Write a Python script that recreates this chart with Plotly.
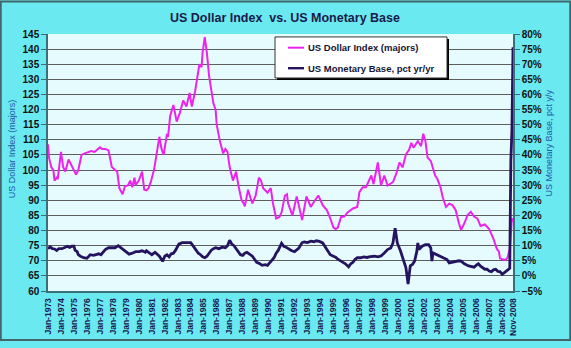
import plotly.graph_objects as go

# Month offsets counted from Jan-1973 (0) to Nov-2008 (430)
usd_month = [0, 1, 3, 5, 6, 8, 9, 12, 14, 16, 19, 21, 24, 26, 28, 31, 34, 37, 40, 43, 46, 48, 50, 53, 56,
             58, 59, 62, 64, 66, 69, 71, 74, 76, 78, 80, 81, 84, 87, 89, 91, 93, 95, 98, 101, 103, 105,
             107, 110, 111, 113, 116, 119, 122, 125, 128, 131, 133, 136, 138, 140, 142, 143, 145, 147,
             149, 151, 153, 155, 156, 159, 162, 164, 166, 168, 171, 174, 176, 179, 181, 182, 185, 187,
             189, 192, 195, 197, 199, 203, 206, 208, 211, 214, 216, 219, 221, 222, 224, 226, 230, 235,
             239, 243, 246, 250, 254, 258, 261, 264, 266, 268, 271, 274, 277, 282, 286, 288, 291, 294,
             299, 301, 305, 308, 311, 314, 319, 322, 325, 328, 331, 334, 336, 338, 342, 345, 347, 349,
             351, 354, 358, 360, 363, 365, 368, 371, 374, 377, 380, 382, 385, 388, 391, 394, 397, 400,
             404, 407, 408, 412, 415, 417, 418, 420, 423, 425, 427, 428, 429, 430]
usd_index = [108.5, 104, 101, 100, 96.5, 97.5, 97, 106, 101, 99.5, 103.5, 102, 100, 98.5, 100, 105, 105.5,
             106, 106.3, 106, 107, 107.5, 107, 107, 106.5, 103, 101, 100, 99.5, 94, 92, 94.5, 95, 96.5,
             94.3, 97.5, 95, 96.5, 99.5, 93.5, 93.3, 94, 96, 100, 106, 111, 107, 105, 112, 111, 118,
             121.5, 116, 119, 123, 121, 125.5, 121, 126, 131, 135, 134, 139, 144, 138.5, 131, 126, 122,
             120, 115, 109.5, 105.5, 107, 106, 101, 96.5, 99.5, 95, 90, 89, 88, 93.5, 91, 89, 91.5, 97.5,
             96.5, 94, 92.5, 94, 89, 84, 84.5, 86, 91.5, 92, 89, 87, 85, 91.3, 83.5, 91.3, 87.8, 89.5,
             91.6, 88.4, 86.7, 84, 81, 80.5, 81, 84.5, 84.6, 86, 87.3, 87.8, 92.7, 94.3, 94.3, 98.2,
             95.4, 102.5, 94.9, 98.2, 94.9, 96, 98.7, 102.5, 100.9, 105.2, 106.8, 109, 107.4, 109.6,
             107.9, 112, 109.6, 104.1, 103, 98.2, 97.1, 94.3, 91, 87.8, 88.9, 88.4, 86.7, 82.4, 80.2,
             82.4, 85.1, 86.2, 84.6, 84, 81.5, 82, 81, 80.5, 77.2, 74, 73, 70.8, 70.5, 70.3, 71, 74, 79,
             84, 83]

base_month = [0, 2, 4, 6, 8, 10, 13, 15, 18, 20, 22, 24, 25, 27, 28, 30, 33, 36, 39, 42, 44, 47, 49, 51,
              53, 56, 59, 62, 65, 67, 69, 72, 75, 78, 81, 84, 87, 90, 91, 94, 96, 99, 101, 103, 106, 108,
              110, 112, 114, 116, 118, 121, 124, 127, 130, 132, 135, 137, 139, 141, 143, 145, 147, 149,
              151, 153, 155, 158, 161, 164, 166, 168, 170, 172, 174, 176, 178, 180, 182, 184, 187, 189,
              191, 193, 196, 198, 201, 203, 206, 209, 211, 213, 216, 218, 220, 222, 225, 228, 230, 232,
              235, 237, 240, 243, 246, 248, 251, 254, 257, 259, 261, 264, 266, 268, 271, 273, 275, 278,
              280, 282, 284, 286, 289, 292, 295, 298, 302, 305, 308, 311, 314, 317, 319, 321, 322, 323,
              326, 329, 331, 333, 334, 335, 337, 339, 341, 342, 343, 346, 349, 352, 354, 355, 356, 358,
              360, 362, 365, 368, 369, 371, 374, 377, 380, 382, 385, 389, 392, 394, 397, 398, 400, 402,
              404, 406, 408, 410, 412, 414, 416, 418, 420, 422, 424, 426, 427, 428, 429, 430]
base_pct = [9, 9.6, 9, 8.9, 8.4, 9, 9, 9.3, 9.8, 9.4, 9.8, 9.8, 8.5, 8, 7, 6.5, 6, 5.8, 7, 6.8, 7, 7.3,
            7, 8, 8.7, 9.3, 9.2, 9.3, 10, 9.5, 9, 8, 7.2, 7.5, 8, 8, 8.3, 7.8, 8.3, 7.5, 7, 7.8, 7, 6.5,
            4.8, 6.5, 7, 6.3, 7.3, 7.5, 8.5, 10.5, 11, 11, 10.8, 11, 9.5, 8.5, 7.5, 7, 6.3, 6, 6.5, 7.5,
            8.5, 9, 9.3, 9, 9.5, 9.3, 10, 11.8, 10.5, 10, 9, 7.8, 7, 6.8, 7.5, 7.8, 7, 6.5, 5.5, 4.5, 4,
            3.5, 3.7, 3.5, 4.7, 6, 7.5, 8.5, 10.8, 9.8, 9.5, 9, 8.4, 8, 8.5, 9.2, 11, 11.2, 11, 11.5,
            11.3, 11.6, 11.4, 10.9, 9.2, 8, 7, 6.5, 6.2, 5.5, 4.9, 4.5, 4, 3, 4, 4.5, 5.5, 6, 6, 6.3,
            6.1, 6.4, 6.5, 6.3, 6.6, 7.6, 8.7, 9.2, 10.9, 15.8, 12.5, 10.9, 8.2, 4.9, 2.7, -2.7, 1, 3.3,
            3.8, 4.9, 8, 10.9, 8.7, 9.8, 10.3, 10.3, 9.2, 4.9, 7.6, 7.3, 7, 6.6, 6.2, 5.8, 5.4, 4.3,
            4.6, 4.9, 5, 4.9, 4, 3.3, 3.2, 2.9, 3.8, 4, 3.2, 2.7, 2.2, 2.2, 1.6, 1.4, 2, 2.2, 1.5, 1.4,
            0.5, 1.1, 1.6, 2, 2.5, 38, 48, 75.6]

tick_months = list(range(0, 421, 12)) + [430]
tick_labels = [f"Jan-{1973 + i}" for i in range(36)] + ["Nov-2008"]

W, H = 571, 348
L, R, T, B = 48, 513, 34, 297  # plot-area edges in pixels


def px_x(p):
    return (p - L) / (R - L)


def px_y(p):
    return (B - p) / (B - T)


USD_COLOR = "#EE22EE"
BASE_COLOR = "#24145F"
FONT = "Liberation Sans, Arial, sans-serif"

fig = go.Figure()
fig.add_trace(go.Scatter(x=usd_month, y=usd_index, mode="lines",
                         line=dict(color=USD_COLOR, width=2), name="US Dollar Index (majors)"))
fig.add_trace(go.Scatter(x=base_month, y=base_pct, mode="lines", yaxis="y2",
                         line=dict(color=BASE_COLOR, width=2.8), name="US Monetary Base, pct yr/yr"))

axis_line = "#3A6E78"
fig.update_layout(
    width=W, height=H,
    margin=dict(l=L, r=W - R, t=T, b=H - B, pad=0),
    paper_bgcolor="#6BE9F1",
    plot_bgcolor="#E6FBFE",
    showlegend=False,
    font=dict(family=FONT),
    xaxis=dict(range=[0, 430], tickmode="array", tickvals=tick_months, ticktext=tick_labels,
               tickangle=-90, tickfont=dict(size=8.5, color="#1A1A50", family=FONT, weight="bold"),
               showgrid=False, zeroline=False, showline=True, linecolor=axis_line, linewidth=1.5,
               ticks="", ticklabelstandoff=2),
    yaxis=dict(range=[60, 145], dtick=5, tick0=60, showgrid=True, gridcolor="#5E5E5E", gridwidth=1.3,
               zeroline=False, showline=True, linecolor=axis_line, linewidth=1.5,
               ticks="outside", ticklen=5, tickcolor=axis_line,
               tickfont=dict(size=10, color="#111111", family=FONT, weight="bold")),
    yaxis2=dict(range=[-5, 80], dtick=5, tick0=-5, overlaying="y", side="right", ticksuffix="%",
                showgrid=False, zeroline=False, showline=True, linecolor=axis_line, linewidth=1.5,
                ticks="outside", ticklen=5, tickcolor=axis_line,
                tickfont=dict(size=10, color="#111111", family=FONT, weight="bold")),
)

shapes = [
    # outer frame
    dict(type="rect", xref="paper", yref="paper", x0=px_x(0.75), x1=px_x(W - 0.75),
         y0=px_y(H - 0.75), y1=px_y(0.75), line=dict(color="#44656A", width=2), layer="below"),
    # legend shadow and box
    dict(type="rect", xref="paper", yref="paper", x0=px_x(277), x1=px_x(449),
         y0=px_y(81), y1=px_y(39), fillcolor="#000000", line=dict(width=0), layer="above"),
    dict(type="rect", xref="paper", yref="paper", x0=px_x(275), x1=px_x(447),
         y0=px_y(79), y1=px_y(37), fillcolor="#FFFFFF", line=dict(color="#333333", width=1),
         layer="above"),
    dict(type="line", xref="paper", yref="paper", x0=px_x(288), x1=px_x(304),
         y0=px_y(48), y1=px_y(48), line=dict(color=USD_COLOR, width=2), layer="above"),
    dict(type="line", xref="paper", yref="paper", x0=px_x(288), x1=px_x(304),
         y0=px_y(69), y1=px_y(69), line=dict(color=BASE_COLOR, width=2.4), layer="above"),
]

annotations = [
    dict(text="<b>US Dollar Index \u00a0vs. US Monetary Base</b>", xref="paper", yref="paper",
         x=px_x(285), y=px_y(18), showarrow=False, xanchor="center", yanchor="middle",
         font=dict(size=12.5, color="#1A1A4A", family=FONT)),
    dict(text="US Dollar Index (majors)", xref="paper", yref="paper", x=px_x(12), y=px_y(152),
         textangle=-90, showarrow=False, xanchor="center", yanchor="middle",
         font=dict(size=9, color="#2657A8", family=FONT)),
    dict(text="US Monetary Base, pct y/y", xref="paper", yref="paper", x=px_x(549), y=px_y(146),
         textangle=-90, showarrow=False, xanchor="center", yanchor="middle",
         font=dict(size=9, color="#2657A8", family=FONT)),
    dict(text="<b>US Dollar Index (majors)</b>", xref="paper", yref="paper", x=px_x(306), y=px_y(48),
         showarrow=False, xanchor="left", yanchor="middle",
         font=dict(size=9.5, color="#151535", family=FONT)),
    dict(text="<b>US Monetary Base, pct yr/yr</b>", xref="paper", yref="paper", x=px_x(306),
         y=px_y(69), showarrow=False, xanchor="left", yanchor="middle",
         font=dict(size=9.5, color="#151535", family=FONT)),
]

fig.update_layout(shapes=shapes, annotations=annotations)
fig.write_html("out.html")
